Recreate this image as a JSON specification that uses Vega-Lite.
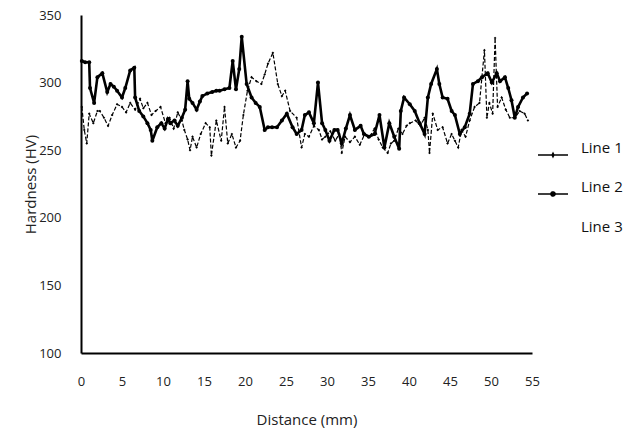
{
  "$schema": "https://vega.github.io/schema/vega-lite/v6.json",
  "width": 451,
  "height": 338,
  "autosize": "none",
  "padding": {"left": 81, "top": 15, "right": 104, "bottom": 84},
  "background": "white",
  "config": {"view": {"stroke": null}, "font": "Open Sans"},
  "datasets": {
    "l1": [[0.1,282],[0.4,265],[0.7,255],[1.0,277],[1.5,270],[2.0,279],[2.3,279],[2.8,274],[3.3,268],[3.8,276],[4.4,284],[5.0,282],[5.5,278],[6.0,285],[6.6,280],[7.2,288],[7.6,281],[8.1,285],[8.6,276],[9.1,279],[9.7,282],[10.3,270],[10.8,274],[11.3,266],[11.8,278],[12.3,272],[12.6,265],[13.0,258],[13.3,250],[13.6,260],[14.1,252],[14.6,262],[15.2,270],[15.7,267],[15.9,246],[16.5,272],[17.1,257],[17.5,282],[17.9,255],[18.4,262],[18.9,252],[19.4,257],[19.8,276],[20.3,294],[20.8,304],[21.4,301],[22.0,299],[22.4,306],[22.8,314],[23.4,322],[24.0,299],[24.5,290],[24.9,294],[25.5,279],[26.3,274],[26.9,252],[27.3,262],[27.8,260],[28.4,268],[29.0,265],[29.4,258],[29.8,260],[30.4,264],[31.0,257],[31.5,262],[31.8,248],[32.2,260],[32.8,256],[33.4,260],[34.0,254],[34.6,262],[35.2,260],[35.8,266],[36.3,258],[36.8,252],[37.4,248],[37.8,255],[38.2,257],[38.7,266],[39.2,262],[39.7,268],[40.1,270],[40.8,272],[41.4,268],[41.9,274],[42.3,265],[42.5,248],[42.9,277],[43.5,265],[44.1,267],[44.7,255],[45.2,262],[45.6,257],[46.0,252],[46.4,265],[46.9,260],[47.4,272],[48.0,282],[48.6,285],[49.2,324],[49.5,274],[49.8,285],[50.2,277],[50.5,333],[50.8,282],[51.3,289],[51.8,280],[52.3,274],[52.9,274],[53.5,279],[54.1,277],[54.5,272]],
    "l2": [[0.1,316],[0.5,315],[1.0,315],[1.1,296],[1.6,285],[2.0,304],[2.6,307],[3.2,293],[3.6,299],[4.0,297],[4.4,294],[5.0,289],[5.4,296],[6.0,309],[6.5,311],[6.6,289],[7.1,279],[7.6,275],[8.1,270],[8.5,265],[8.7,257],[9.3,267],[9.8,270],[10.2,266],[10.6,273],[10.9,270],[11.4,272],[11.8,268],[12.3,274],[12.7,280],[13.0,301],[13.2,288],[13.6,285],[14.1,280],[14.5,286],[14.8,290],[15.4,292],[16.0,293],[16.5,294],[16.9,294],[17.5,295],[18.1,296],[18.5,316],[18.9,295],[19.3,310],[19.6,334],[20.2,299],[20.8,289],[21.3,285],[21.8,282],[22.4,265],[22.8,267],[23.3,267],[23.9,267],[24.5,272],[25.1,277],[25.8,267],[26.3,262],[26.9,265],[27.3,276],[27.8,278],[28.4,270],[28.9,300],[29.4,270],[29.8,265],[30.3,257],[30.9,265],[31.3,265],[31.8,255],[32.3,266],[32.8,276],[33.4,265],[34.1,268],[34.5,262],[35.1,260],[35.8,262],[36.4,276],[37.0,252],[37.6,270],[38.2,260],[38.8,251],[39.0,279],[39.4,289],[40.1,284],[40.7,279],[41.3,270],[41.9,262],[42.3,289],[42.7,299],[43.4,310],[43.7,299],[44.1,289],[44.7,288],[45.2,279],[45.6,276],[46.2,262],[46.8,267],[47.4,277],[47.8,299],[48.4,301],[48.9,304],[49.6,307],[50.1,300],[50.7,307],[51.1,301],[51.7,304],[52.1,296],[52.5,287],[52.9,274],[53.3,282],[53.9,289],[54.4,292]]
  },
  "data": {"name": "l1"},
  "encoding": {
    "x": {
      "field": "0", "type": "quantitative",
      "scale": {"domain": [0, 55], "nice": false},
      "axis": {"values": [0,5,10,15,20,25,30,35,40,45,50,55], "title": "Distance (mm)", "grid": false, "ticks": false, "domainColor": "black", "domainWidth": 2, "labelFontSize": 13, "labelPadding": 22, "labelColor": "#222", "labelFlush": false, "titleFontSize": 15, "titleFontWeight": "normal", "titleColor": "#222", "titlePadding": 24}
    },
    "y": {
      "field": "1", "type": "quantitative",
      "scale": {"domain": [100, 350], "nice": false},
      "axis": {"values": [100,150,200,250,300,350], "title": "Hardness (HV)", "grid": false, "ticks": false, "domainColor": "black", "domainWidth": 2, "labelFontSize": 13, "labelPadding": 20, "labelColor": "#222", "labelFlush": false, "titleFontSize": 15, "titleFontWeight": "normal", "titleColor": "#222", "titlePadding": 0}
    }
  },
  "layer": [
    {
      "data": {"name": "l1"},
      "transform": [{"calculate": "'Line 1'", "as": "s"}],
      "mark": {"type": "line", "strokeWidth": 1.2, "strokeDash": [4, 2]},
      "encoding": {
        "color": {
          "field": "s", "type": "nominal",
          "scale": {"domain": ["Line 1", "Line 2", "Line 3"], "range": ["black", "black", "white"]},
          "legend": {
            "title": null, "orient": "none", "legendX": 456, "legendY": 124, "padding": 0,
            "symbolSize": 900, "symbolStrokeWidth": 1.5, "labelFontSize": 15, "labelOffset": 12, "labelColor": "#111", "rowPadding": 18,
            "encode": {
              "symbols": {"update": {
                "shape": {"signal": "datum.value === 'Line 2' ? 'M-1,0H1M0.14,0A0.14,0.14,0,1,1,-0.14,0A0.14,0.14,0,1,1,0.14,0Z' : datum.value === 'Line 1' ? 'M-1,0H1M-0.06,0L0,-0.12L0.06,0L0,0.12Z' : 'M0,0'"},
                "fill": {"value": "black"},
                "strokeDash": {"value": [1, 0]}
              }},
              "labels": {"update": {"dy": {"value": -7}}}
            }
          }
        }
      }
    },
    {
      "data": {"name": "l2"},
      "transform": [{"calculate": "'Line 2'", "as": "s"}],
      "mark": {"type": "line", "strokeWidth": 2.6},
      "encoding": {"color": {"field": "s", "type": "nominal"}}
    },
    {
      "data": {"name": "l1"},
      "mark": {"type": "point", "shape": "diamond", "filled": true, "size": 7, "color": "black", "opacity": 1}
    },
    {
      "data": {"name": "l2"},
      "mark": {"type": "circle", "size": 16, "color": "black", "opacity": 1}
    }
  ]
}
